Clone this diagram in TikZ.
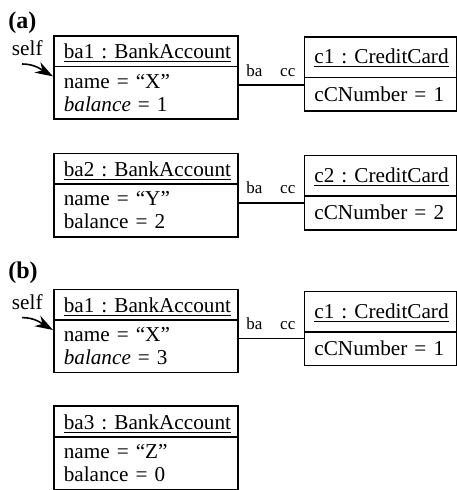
\documentclass[tikz,border=0pt]{standalone}
\usepackage{fontspec}
\setmainfont{Liberation Serif}
\usepackage{tikz}
\usetikzlibrary{arrows.meta,positioning,shapes.multipart}
\frenchspacing
\newcommand{\bankhead}[1]{\rule[-3.5pt]{0pt}{14.5pt}\underline{#1}}
\newcommand{\cardhead}[1]{\rule[-6.5pt]{0pt}{19.5pt}\underline{#1}}
\newcommand{\firstrow}{\rule{0pt}{10.5pt}}
\newcommand{\lastrow}{\rule[-3.5pt]{0pt}{3.5pt}}
\newcommand{\cardrow}{\rule[-4.5pt]{0pt}{16pt}}
\tikzset{
  objbox/.style={draw,line width=0.8pt,rectangle split,rectangle split parts=2,inner xsep=5pt,inner ysep=0pt,align=left,font={\fontsize{10.6}{11.5}\selectfont}},
  bankobj/.style={objbox,text width=82pt},
  cardobj/.style={objbox,text width=66pt},
  linkline/.style={line width=0.8pt},
  rolelabel/.style={font={\fontsize{8.5}{10}\selectfont},inner sep=1.5pt},
  selflabel/.style={font={\fontsize{10.6}{11.5}\selectfont},inner sep=0pt},
  selfarrow/.style={-{Stealth[length=9pt,width=6pt]},line width=0.8pt},
  partlabel/.style={font={\fontsize{12}{14}\selectfont\bfseries},inner sep=0pt}
}
\begin{document}
\begin{tikzpicture}[node distance=16.5pt]
\useasboundingbox (0,0) rectangle (228pt,-245pt);
% (a)
\node[bankobj,anchor=north west] (ba1a) at (26.5pt,-17.5pt) {\bankhead{ba1 : BankAccount}\nodepart{two}\firstrow name = “X”\\\textit{balance} = 1\lastrow};
\node[cardobj,right=32.5pt of ba1a.north east,anchor=north west,yshift=-0.5pt] (c1a) {\cardhead{c1 : CreditCard}\nodepart{two}\cardrow cCNumber = 1};
\node[bankobj,below=of ba1a] (ba2) {\bankhead{ba2 : BankAccount}\nodepart{two}\firstrow name = “Y”\\balance = 2\lastrow};
\node[cardobj,right=32.5pt of ba2.north east,anchor=north west,yshift=-1pt] (c2) {\cardhead{c2 : CreditCard}\nodepart{two}\cardrow cCNumber = 2};
\node[partlabel,anchor=base west] (pa) at ([shift={(-22.5pt,3pt)}]ba1a.north west) {(a)};
\node[selflabel,anchor=base east] (selfa) at ([shift={(-5pt,-10.5pt)}]ba1a.north west) {self};
\draw[selfarrow] ([shift={(-10.5pt,-4pt)}]selfa.base east) to[out=0,in=150] ([yshift=-5pt]ba1a.text split west);
\coordinate[below=25pt of ba1a.north east] (la1);
\coordinate[below=25pt of ba2.north east] (la2);
\draw[linkline] (la1) -- (la1 -| c1a.west) node[rolelabel,pos=0,above right=2.5pt and 2pt] (baa1) {ba} node[rolelabel,pos=1,above left=2.5pt and 2.25pt] (cca1) {cc};
\draw[linkline] (la2) -- (la2 -| c2.west) node[rolelabel,pos=0,above right=2.5pt and 2pt] (baa2) {ba} node[rolelabel,pos=1,above left=2.5pt and 2.25pt] (cca2) {cc};
% (b)
\node[bankobj,below=25.5pt of ba2] (ba1b) {\bankhead{ba1 : BankAccount}\nodepart{two}\firstrow name = “X”\\\textit{balance} = 3\lastrow};
\node[cardobj,right=32.5pt of ba1b.north east,anchor=north west,yshift=-1pt] (c1b) {\cardhead{c1 : CreditCard}\nodepart{two}\cardrow cCNumber = 1};
\node[bankobj,below=16pt of ba1b] (ba3) {\bankhead{ba3 : BankAccount}\nodepart{two}\firstrow name = “Z”\\balance = 0\lastrow};
\node[partlabel,anchor=base west] (pb) at ([shift={(-22.5pt,5pt)}]ba1b.north west) {(b)};
\node[selflabel,anchor=base east] (selfb) at ([shift={(-5pt,-10.5pt)}]ba1b.north west) {self};
\draw[selfarrow] ([shift={(-10.5pt,-4pt)}]selfb.base east) to[out=0,in=150] ([yshift=-5pt]ba1b.text split west);
\coordinate[below=25pt of ba1b.north east] (lb1);
\draw[linkline] (lb1) -- (lb1 -| c1b.west) node[rolelabel,pos=0,above right=2.5pt and 2pt] (bab1) {ba} node[rolelabel,pos=1,above left=2.5pt and 2.25pt] (ccb1) {cc};
\end{tikzpicture}
\end{document}
